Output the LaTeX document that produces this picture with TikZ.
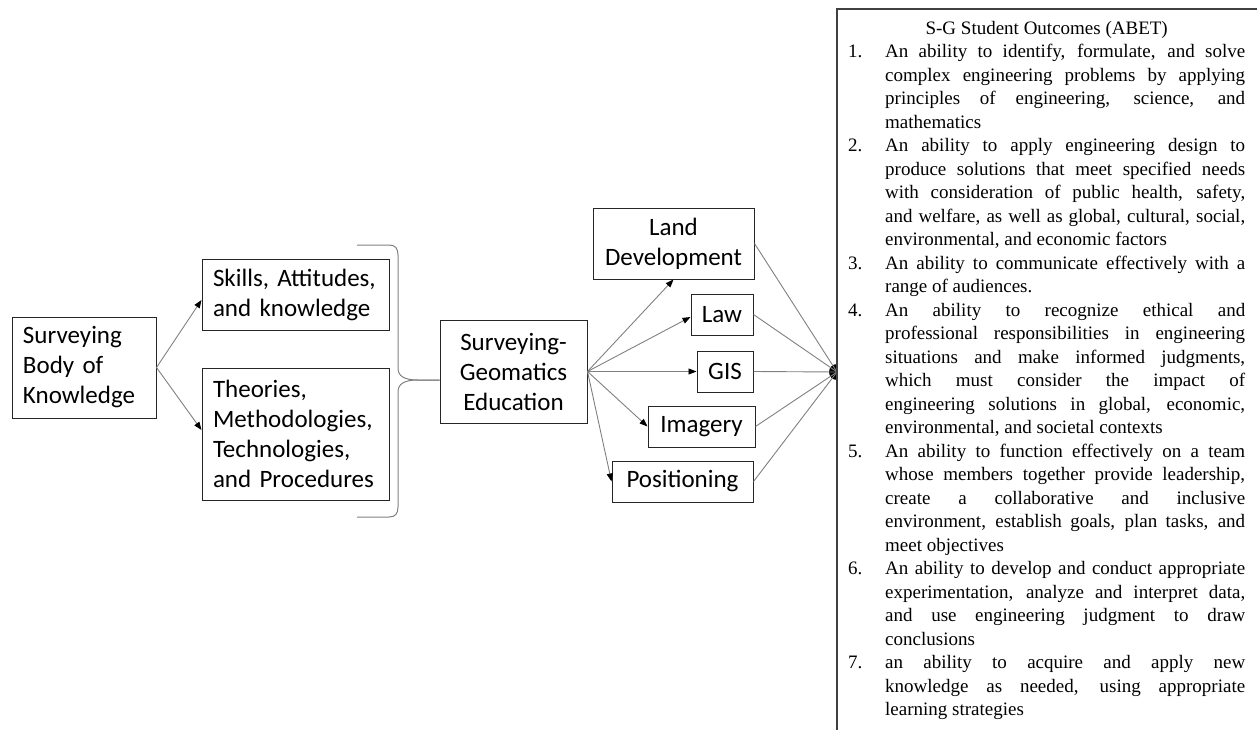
\documentclass[tikz,border=0pt]{standalone}
\usepackage{fontspec}
\setmainfont{Liberation Serif}
\newfontfamily\calibrifont{Carlito}
\usetikzlibrary{arrows.meta,calc}
\newcommand\outitem[2]{\par\hangindent=37pt\hangafter=1\noindent\makebox[37pt][l]{#1}#2}
\begin{document}
\begin{tikzpicture}[x=1pt,y=-1pt,
  box/.style={draw=black!85, line width=1pt, inner sep=0pt,
    font=\calibrifont\fontsize{25}{30}\selectfont, align=center},
  lbox/.style={box, align=left, inner xsep=11pt},
  conn/.style={draw=black!50, line width=0.9pt},
  arr/.style={conn, -{Triangle[length=8pt,width=6pt,color=black]}},
  brace/.style={draw=black!50, line width=1pt},
]
\useasboundingbox (0,0) rectangle (1257,730);

% left part
\node[lbox, text width=122pt, minimum height=101pt] (sbk) at (84,367.5)
  {Surveying\\Body of\\Knowledge};
\node[lbox, text width=165pt, minimum height=71pt] (skills) at (295.5,294.5)
  {Skills, Attitudes,\\and knowledge};
\node[lbox, text width=165pt, minimum height=132pt] (theories) at (295.5,434)
  {Theories,\\Methodologies,\\Technologies,\\and Procedures};

\draw[arr] (sbk.east) -- (skills.west |- 0,300);
\draw[arr] (sbk.east) -- (theories.west |- 0,430);

% middle
\node[box, minimum width=147pt, minimum height=103pt] (sge) at (513.5,371.5)
  {Surveying-\\Geomatics\\Education};
\coordinate (tip) at (sge.west |- 0,380);
\draw[brace] (357,245) -- (389,245) .. controls (395,245) and (398,248) .. (398,255)
  -- (398,368) .. controls (398,376) and (404,380) .. (418,380) -- (tip);
\draw[brace] (357,517) -- (389,517) .. controls (395,517) and (398,514) .. (398,507)
  -- (398,392) .. controls (398,384) and (404,380) .. (418,380) -- (tip);

\node[box, minimum width=161pt, minimum height=71pt] (land) at (673.5,243.5)
  {Land\\Development};
\node[box, minimum width=62pt, minimum height=41pt] (law) at (722,314.5) {Law};
\node[box, minimum width=56pt, minimum height=41pt] (gis) at (725,371.5) {GIS};
\node[box, minimum width=107pt, minimum height=41pt] (imagery) at (701.5,426.5) {Imagery};
\node[box, minimum width=141pt, minimum height=41pt] (positioning) at (682.5,481.5) {Positioning};

\draw[arr] (sge.east) -- (land.south);
\draw[arr] (sge.east) -- (law.west |- 0,317);
\draw[arr] (sge.east) -- (gis.west);
\draw[arr] (sge.east) -- (imagery.west);
\draw[arr] (sge.east) -- (positioning.west);

\node[circle, fill=black, minimum size=16pt, inner sep=0pt] (dot) at (837,372) {};
\foreach \n in {land,law,gis,imagery,positioning}
  \draw[conn] (\n.east) -- (dot.center);

% outcomes box
\fill[white] (837,9) rectangle (1257,730);
\draw[black!75, line width=1.3pt] (1257,9) -- (837,9) -- (837,730);
\node[anchor=north west, text width=397pt, inner sep=0pt, align=justify,
  font=\fontsize{19}{23.5}\selectfont] (outcomes) at (848,21) {%
\parindent=0pt\hyphenpenalty=10000\exhyphenpenalty=10000\hbadness=10000
\centerline{S-G Student Outcomes (ABET)}%
\outitem{1.}{An ability to identify, formulate, and solve\linebreak complex engineering problems by applying\linebreak principles of engineering, science, and\linebreak mathematics}
\outitem{2.}{An ability to apply engineering design to\linebreak produce solutions that meet specified needs\linebreak with consideration of public health, safety,\linebreak and welfare, as well as global, cultural, social,\linebreak environmental, and economic factors}
\outitem{3.}{An ability to communicate effectively with a\linebreak range of audiences.}
\outitem{4.}{An ability to recognize ethical and\linebreak professional responsibilities in engineering\linebreak situations and make informed judgments,\linebreak which must consider the impact of\linebreak engineering solutions in global, economic,\linebreak environmental, and societal contexts}
\outitem{5.}{An ability to function effectively on a team\linebreak whose members together provide leadership,\linebreak create a collaborative and inclusive\linebreak environment, establish goals, plan tasks, and\linebreak meet objectives}
\outitem{6.}{An ability to develop and conduct appropriate\linebreak experimentation, analyze and interpret data,\linebreak and use engineering judgment to draw\linebreak conclusions}
\outitem{7.}{an ability to acquire and apply new\linebreak knowledge as needed, using appropriate\linebreak learning strategies}\par
};
\end{tikzpicture}
\end{document}
